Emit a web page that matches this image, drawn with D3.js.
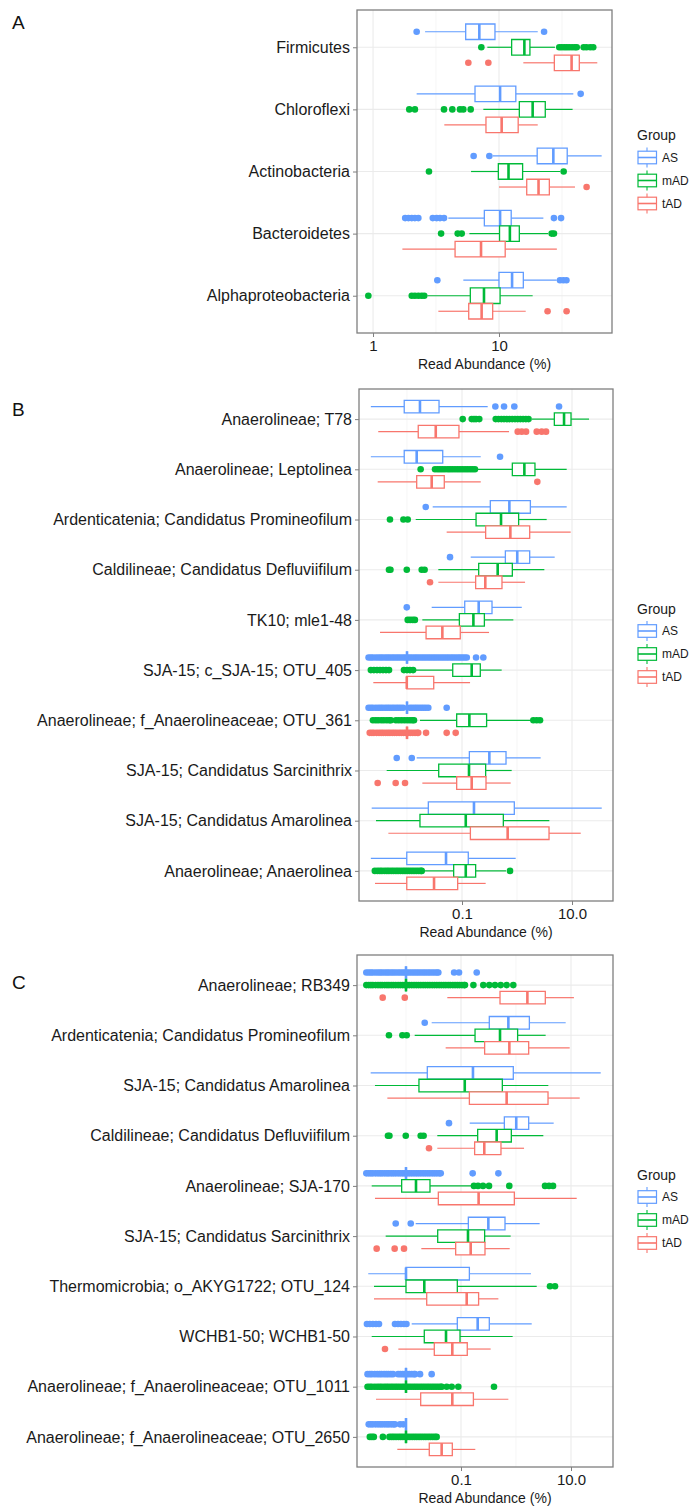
<!DOCTYPE html>
<html>
<head>
<meta charset="utf-8">
<script src="https://cdn.jsdelivr.net/npm/d3@7"></script>
<style>
  body { margin: 0; background: #fff; }
  text { font-family: "Liberation Sans", Arial, sans-serif; }
</style>
</head>
<body>
<svg id="fig" width="698" height="1511"></svg>
<script>
// Groups and colours (ggplot default hue palette)
const groups = ["AS", "mAD", "tAD"];
const groupColors = ["#619CFF", "#00BA38", "#F8766D"];

// ---------- Panel A ----------
const catsA = ["Firmicutes", "Chloroflexi", "Actinobacteria", "Bacteroidetes", "Alphaproteobacteria"];
// box stats: [lower whisker, Q1, median, Q3, upper whisker]
const boxA_AS = [
  [2.59, 5.44, 6.98, 9.29, 20.3],
  [2.22, 6.45, 10.2, 13.6, 38.9],
  [8.91, 20.1, 27.0, 34.8, 65.3],
  [3.96, 7.65, 10.2, 12.5, 22.5],
  [5.21, 10.0, 12.7, 15.6, 28.7]
];
const outA_AS = [
  [2.22, 22.8],
  [44.5],
  [6.29, 8.38],
  [1.80, 1.91, 2.03, 2.15, 2.29, 2.98, 3.20, 3.40, 3.66, 27.3, 31.1],
  [3.24, 30.5, 32.4, 34.3]
];
const boxA_mAD = [
  [8.08, 12.6, 15.9, 17.6, 27.8],
  [7.51, 14.5, 18.5, 23.3, 38.4],
  [6.0, 9.88, 11.9, 15.4, 30.5],
  [5.82, 10.1, 12.2, 14.5, 24.5],
  [2.7, 5.92, 7.6, 10.2, 18.5]
];
const outA_mAD = [
  [7.24, 30.1, 31.5, 33.0, 34.5, 36.1, 38.0, 40.0, 41.4, 47.0, 49.5, 53.0, 56.0],
  [1.94, 2.15, 3.66, 4.26, 4.90, 5.21, 5.96],
  [2.78, 32.6],
  [3.47, 4.70, 5.06, 26.2, 27.3],
  [0.918, 2.03, 2.15, 2.29, 2.43, 2.55]
];
const boxA_tAD = [
  [15.6, 27.5, 37.7, 43.4, 60.3],
  [3.68, 7.88, 10.5, 14.2, 20.3],
  [10.0, 16.6, 20.6, 25.1, 40.1],
  [1.71, 4.48, 7.2, 11.2, 28.8],
  [3.30, 5.75, 7.28, 8.91, 16.3]
];
const outA_tAD = [[5.71, 8.23], [], [49.6], [], [24.3, 34.4]];

// ---------- Panel B ----------
const catsB = [
  "Anaerolineae; T78",
  "Anaerolineae; Leptolinea",
  "Ardenticatenia; Candidatus Promineofilum",
  "Caldilineae; Candidatus Defluviifilum",
  "TK10; mle1-48",
  "SJA-15; c_SJA-15; OTU_405",
  "Anaerolineae; f_Anaerolineaceae; OTU_361",
  "SJA-15; Candidatus Sarcinithrix",
  "SJA-15; Candidatus Amarolinea",
  "Anaerolineae; Anaerolinea"
];
const boxB_AS = [
  [0.0022, 0.0089, 0.0172, 0.0382, 0.293],
  [0.0022, 0.0089, 0.0150, 0.0446, 0.219],
  [0.0293, 0.327, 0.726, 1.75, 8.0],
  [0.144, 0.614, 1.01, 1.70, 4.84],
  [0.0281, 0.112, 0.201, 0.351, 1.22],
  [0.01, 0.01, 0.01, 0.01, 0.01],
  [0.01, 0.01, 0.01, 0.01, 0.01],
  [0.015, 0.136, 0.314, 0.631, 2.69],
  [0.00228, 0.0244, 0.165, 0.893, 34.7],
  [0.0022, 0.0099, 0.0512, 0.130, 0.946]
];
const outB_AS = [
  [0.404, 0.581, 0.893, 5.81],
  [0.491],
  [0.0219],
  [0.0605],
  [0.0099],
  [0.0020, 0.0022, 0.0024, 0.0027, 0.003, 0.0033, 0.0036, 0.004, 0.0044, 0.0048, 0.0053, 0.0058, 0.0064, 0.007,
   0.0077, 0.0085, 0.0093, 0.0103, 0.0113, 0.0124, 0.0137, 0.015, 0.0165, 0.0182, 0.02, 0.022, 0.0242, 0.0266,
   0.0293, 0.0322, 0.0354, 0.039, 0.0429, 0.0472, 0.052, 0.057, 0.063, 0.069, 0.076, 0.084, 0.092, 0.101, 0.111,
   0.122, 0.18, 0.244],
  [0.0020, 0.0022, 0.0024, 0.0027, 0.003, 0.0033, 0.0036, 0.004, 0.0044, 0.0048, 0.0053, 0.0058, 0.0064, 0.007,
   0.0077, 0.0085, 0.0113, 0.0124, 0.0137, 0.015, 0.0165, 0.0182, 0.02, 0.022, 0.0244, 0.0526],
  [0.0065, 0.0122],
  [],
  []
];
const boxB_mAD = [
  [1.85, 4.77, 7.16, 9.59, 20.4],
  [0.19, 0.822, 1.36, 2.12, 8.0],
  [0.0144, 0.18, 0.512, 1.07, 3.46],
  [0.0371, 0.201, 0.445, 0.822, 3.14],
  [0.019, 0.0895, 0.161, 0.255, 0.857],
  [0.0136, 0.0678, 0.150, 0.215, 0.526],
  [0.0172, 0.080, 0.136, 0.28, 1.85],
  [0.00427, 0.0377, 0.134, 0.269, 0.80],
  [0.00273, 0.0172, 0.117, 0.564, 3.87],
  [0.0198, 0.0705, 0.117, 0.177, 0.63]
];
const outB_mAD = [
  [0.103, 0.150, 0.165, 0.180, 0.206, 0.41, 0.46, 0.52, 0.58, 0.65, 0.73, 0.82, 0.92, 1.03, 1.15, 1.29, 1.45, 1.62],
  [0.0177, 0.0323, 0.036, 0.0398, 0.044, 0.049, 0.055, 0.0605, 0.067, 0.0746, 0.083, 0.092, 0.102, 0.1135, 0.126,
   0.140, 0.155, 0.172],
  [0.0049, 0.0086, 0.0103],
  [0.0047, 0.0050, 0.0099, 0.0185, 0.0209],
  [0.0103, 0.0114, 0.0127, 0.0139],
  [0.0022, 0.0025, 0.00285, 0.00323, 0.00366, 0.00415, 0.00471, 0.0088, 0.01, 0.0113, 0.0129],
  [0.0024, 0.0027, 0.003, 0.0034, 0.0038, 0.0043, 0.0048, 0.0051, 0.0063, 0.0071, 0.008, 0.009, 0.0101, 0.0113,
   0.0125, 0.0134, 1.98, 2.28, 2.62],
  [],
  [],
  [0.0026, 0.0029, 0.0032, 0.0035, 0.0039, 0.0043, 0.0047, 0.0052, 0.0057, 0.0063, 0.0069, 0.0076, 0.0084, 0.0092,
   0.0101, 0.0111, 0.0122, 0.0134, 0.0148, 0.0163, 0.0179, 0.0185, 0.746]
];
const boxB_tAD = [
  [0.0030, 0.016, 0.0333, 0.088, 0.716],
  [0.00293, 0.015, 0.0281, 0.0476, 0.219],
  [0.0526, 0.269, 0.757, 1.70, 9.46],
  [0.0371, 0.177, 0.265, 0.533, 1.40],
  [0.00323, 0.0222, 0.0439, 0.093, 0.31],
  [0.00244, 0.0099, 0.0099, 0.0306, 0.14],
  [0.01, 0.01, 0.01, 0.01, 0.01],
  [0.019, 0.080, 0.150, 0.273, 0.767],
  [0.00458, 0.142, 0.676, 3.82, 14.4],
  [0.00262, 0.0099, 0.031, 0.0834, 0.269]
];
const outB_tAD = [
  [1.03, 1.22, 1.46, 2.28, 2.81, 3.37],
  [2.34],
  [],
  [0.0262],
  [],
  [],
  [0.0021, 0.0023, 0.0025, 0.0028, 0.0031, 0.0034, 0.0037, 0.0041, 0.0045, 0.0049, 0.0054, 0.0059, 0.0065, 0.0072,
   0.0079, 0.0087, 0.0095, 0.0105, 0.0115, 0.0127, 0.014, 0.0154, 0.016, 0.0222, 0.0526, 0.0767],
  [0.00293, 0.00622, 0.0092],
  [],
  []
];

// ---------- Panel C ----------
const catsC = [
  "Anaerolineae; RB349",
  "Ardenticatenia; Candidatus Promineofilum",
  "SJA-15; Candidatus Amarolinea",
  "Caldilineae; Candidatus Defluviifilum",
  "Anaerolineae; SJA-170",
  "SJA-15; Candidatus Sarcinithrix",
  "Thermomicrobia; o_AKYG1722; OTU_124",
  "WCHB1-50; WCHB1-50",
  "Anaerolineae; f_Anaerolineaceae; OTU_1011",
  "Anaerolineae; f_Anaerolineaceae; OTU_2650"
];
const boxC_AS = [
  [0.01, 0.01, 0.01, 0.01, 0.01],
  [0.0293, 0.327, 0.726, 1.75, 8.0],
  [0.00228, 0.0244, 0.165, 0.893, 34.7],
  [0.144, 0.614, 1.01, 1.70, 4.84],
  [0.01, 0.01, 0.01, 0.01, 0.01],
  [0.015, 0.136, 0.314, 0.631, 2.69],
  [0.00206, 0.01, 0.01, 0.142, 1.87],
  [0.0127, 0.0857, 0.201, 0.327, 1.93],
  [0.01, 0.01, 0.01, 0.01, 0.01],
  [0.01, 0.01, 0.01, 0.01, 0.01]
];
const outC_AS = [
  [0.0019, 0.0021, 0.0023, 0.0025, 0.0028, 0.0031, 0.0034, 0.0037, 0.0041, 0.0045, 0.0049, 0.0054, 0.0059, 0.0065,
   0.0072, 0.0079, 0.0087, 0.0095, 0.0105, 0.0115, 0.0127, 0.014, 0.0154, 0.0169, 0.0186, 0.0205, 0.0225, 0.0248,
   0.0272, 0.03, 0.033, 0.0363, 0.0387, 0.075, 0.092, 0.193],
  [0.0219],
  [],
  [0.0605],
  [0.0019, 0.0021, 0.0023, 0.0025, 0.0028, 0.0031, 0.0034, 0.0037, 0.0041, 0.0045, 0.0049, 0.0054, 0.0059, 0.0065,
   0.0072, 0.0079, 0.0087, 0.0095, 0.0105, 0.0115, 0.0127, 0.014, 0.0154, 0.0169, 0.0186, 0.0205, 0.0225, 0.0248,
   0.0272, 0.03, 0.033, 0.0363, 0.04, 0.0428, 0.163, 0.478],
  [0.0065, 0.0122],
  [],
  [0.00195, 0.0022, 0.0025, 0.00285, 0.00323, 0.0063, 0.00716, 0.0081, 0.0092, 0.0102],
  [0.002, 0.0022, 0.0024, 0.0027, 0.003, 0.0033, 0.0036, 0.004, 0.0044, 0.0048, 0.0053, 0.0058, 0.0072, 0.0079,
   0.0087, 0.0095, 0.0105, 0.0115, 0.0127, 0.014, 0.0146, 0.018, 0.0293],
  [0.0021, 0.0023, 0.0025, 0.0028, 0.0031, 0.0034, 0.0037, 0.0041, 0.0045, 0.0049, 0.0054, 0.0059, 0.0063, 0.0078,
   0.0089]
];
const boxC_mAD = [
  [0.01, 0.01, 0.01, 0.01, 0.01],
  [0.0144, 0.18, 0.512, 1.07, 3.46],
  [0.00273, 0.0172, 0.117, 0.564, 3.87],
  [0.0371, 0.201, 0.445, 0.822, 3.14],
  [0.00238, 0.00834, 0.0152, 0.0273, 0.156],
  [0.00427, 0.0377, 0.134, 0.269, 0.80],
  [0.00262, 0.01, 0.0215, 0.0857, 2.38],
  [0.00238, 0.0215, 0.0534, 0.096, 0.869],
  [0.01, 0.01, 0.01, 0.01, 0.01],
  [0.01, 0.01, 0.01, 0.01, 0.01]
];
const outC_mAD = [
  [0.0019, 0.0021, 0.0023, 0.0025, 0.0028, 0.0031, 0.0034, 0.0037, 0.0041, 0.0045, 0.0049, 0.0054, 0.0059, 0.0065,
   0.0072, 0.0079, 0.0087, 0.0095, 0.0105, 0.0115, 0.0127, 0.014, 0.0154, 0.0169, 0.0186, 0.0205, 0.0225, 0.0248,
   0.0272, 0.03, 0.033, 0.0363, 0.04, 0.044, 0.0484, 0.053, 0.0585, 0.064, 0.071, 0.078, 0.086, 0.094, 0.104, 0.114,
   0.118, 0.168, 0.254, 0.327, 0.415, 0.527, 0.678, 0.893],
  [0.0049, 0.0086, 0.0103],
  [],
  [0.0047, 0.0050, 0.0099, 0.0185, 0.0209],
  [0.172, 0.204, 0.251, 0.323, 0.755, 3.37, 3.98, 4.71],
  [],
  [4.15, 5.12],
  [],
  [0.002, 0.0022, 0.0024, 0.0027, 0.003, 0.0033, 0.0036, 0.004, 0.0044, 0.0048, 0.0053, 0.0058, 0.0064, 0.007,
   0.0077, 0.0085, 0.0093, 0.0103, 0.0113, 0.0124, 0.0137, 0.015, 0.0165, 0.0182, 0.02, 0.022, 0.0242, 0.0266,
   0.0293, 0.0322, 0.0354, 0.039, 0.0429, 0.0446, 0.055, 0.0678, 0.0893, 0.398],
  [0.0022, 0.0024, 0.0026, 0.0038, 0.005, 0.0055, 0.006, 0.0066, 0.0073, 0.008, 0.0088, 0.0097, 0.0107, 0.0118,
   0.013, 0.0143, 0.0157, 0.0173, 0.019, 0.0209, 0.023, 0.0253, 0.0278, 0.0306, 0.0336, 0.0361]
];
const boxC_tAD = [
  [0.0564, 0.512, 1.61, 3.41, 11.3],
  [0.0526, 0.269, 0.757, 1.70, 9.46],
  [0.00458, 0.142, 0.676, 3.82, 14.4],
  [0.0371, 0.177, 0.265, 0.533, 1.40],
  [0.00273, 0.0387, 0.209, 0.933, 12.7],
  [0.019, 0.080, 0.150, 0.273, 0.767],
  [0.00262, 0.0238, 0.127, 0.209, 0.478],
  [0.00726, 0.0327, 0.0695, 0.130, 0.346],
  [0.00285, 0.0185, 0.0695, 0.168, 0.726],
  [0.00695, 0.0265, 0.0445, 0.0695, 0.182]
];
const outC_tAD = [[0.00377, 0.0095], [], [], [0.0262], [], [0.00293, 0.00622, 0.0092], [], [0.00415], [], []];

// axis ticks
const ticksA = [1, 10];
const minorA = [Math.sqrt(10), Math.sqrt(1000)];
const ticksBC = [0.1, 10];
const minorBC = [0.01, 1];

const svg = d3.select("#fig");
const borderColor = "#7f7f7f";
const gridColor = "#ebebeb";

function drawPanel(p) {
  const g = svg.append("g");
  const x = d3.scaleLog().domain(p.domain).range([p.left, p.right]);
  const y = d3.scalePoint().domain(p.cats).range([p.top, p.bottom]).padding(0.6);
  const bh = y.step() * 0.75 / 3;

  // grid
  g.selectAll("line.minor").data(p.minor).join("line")
    .attr("x1", d => x(d)).attr("x2", d => x(d))
    .attr("y1", p.top).attr("y2", p.bottom)
    .attr("stroke", "#f2f2f2").attr("stroke-width", 0.7);
  g.selectAll("line.major").data(p.ticks).join("line")
    .attr("x1", d => x(d)).attr("x2", d => x(d))
    .attr("y1", p.top).attr("y2", p.bottom)
    .attr("stroke", gridColor).attr("stroke-width", 1.1);
  g.selectAll("line.hgrid").data(p.cats).join("line")
    .attr("x1", p.left).attr("x2", p.right)
    .attr("y1", d => y(d)).attr("y2", d => y(d))
    .attr("stroke", gridColor).attr("stroke-width", 1.1);

  groups.forEach((grp, gi) => {
    const col = groupColors[gi];
    const off = (gi - 1) * bh;
    const rows = p.cats.map((c, i) => ({ cat: c, s: p.boxes[gi][i], o: p.outs[gi][i] }));
    const gg = g.append("g");
    rows.forEach(r => {
      const cy = y(r.cat) + off;
      // outliers
      gg.selectAll(null).data(r.o).join("circle")
        .attr("cx", d => x(d)).attr("cy", cy).attr("r", 3.3)
        .attr("fill", col);
      // whiskers
      gg.append("line").attr("x1", x(r.s[0])).attr("x2", x(r.s[1]))
        .attr("y1", cy).attr("y2", cy).attr("stroke", col).attr("stroke-width", 1.2);
      gg.append("line").attr("x1", x(r.s[3])).attr("x2", x(r.s[4]))
        .attr("y1", cy).attr("y2", cy).attr("stroke", col).attr("stroke-width", 1.2);
      // box (path so that a zero-width box still shows)
      const x1 = x(r.s[1]), x2 = x(r.s[3]);
      const y0 = cy - bh / 2, y1 = cy + bh / 2;
      gg.append("path")
        .attr("d", `M${x1},${y0}H${x2}V${y1}H${x1}Z`)
        .attr("fill", "#fff").attr("stroke", col).attr("stroke-width", 1.3);
      gg.append("line").attr("x1", x(r.s[2])).attr("x2", x(r.s[2]))
        .attr("y1", y0).attr("y2", y1).attr("stroke", col).attr("stroke-width", 2.6);
    });
  });

  // border
  g.append("rect").attr("x", p.left).attr("y", p.top)
    .attr("width", p.right - p.left).attr("height", p.bottom - p.top)
    .attr("fill", "none").attr("stroke", borderColor).attr("stroke-width", 1.3);

  // y axis
  const ya = g.append("g").attr("transform", `translate(${p.left},0)`)
    .call(d3.axisLeft(y).tickSize(4).tickPadding(3));
  ya.select(".domain").remove();
  ya.selectAll(".tick line").attr("stroke", borderColor);
  ya.selectAll(".tick text").attr("font-size", 16).attr("fill", "#1a1a1a")
    .attr("font-family", "Liberation Sans, Arial, sans-serif");

  // x axis
  const xa = g.append("g").attr("transform", `translate(0,${p.bottom})`)
    .call(d3.axisBottom(x).tickValues(p.ticks).tickFormat(p.fmt).tickSize(4).tickPadding(3));
  xa.select(".domain").remove();
  xa.selectAll(".tick line").attr("stroke", borderColor);
  xa.selectAll(".tick text").attr("font-size", 15).attr("fill", "#1a1a1a")
    .attr("font-family", "Liberation Sans, Arial, sans-serif");

  g.append("text").attr("x", (p.left + p.right) / 2).attr("y", p.bottom + 36)
    .attr("text-anchor", "middle").attr("font-size", 14).attr("fill", "#1a1a1a")
    .text("Read Abundance (%)");

  // panel letter
  g.append("text").attr("x", 12).attr("y", p.labelY)
    .attr("font-family", "Lato, 'Open Sans', sans-serif").attr("font-size", 19).attr("fill", "#111")
    .text(p.label);

  // legend
  const mid = (p.top + p.bottom) / 2;
  const lg = g.append("g").attr("transform", `translate(637,${mid})`);
  lg.append("text").attr("x", 0).attr("y", -36).attr("dy", "0.35em")
    .attr("font-size", 14).attr("fill", "#1a1a1a").text("Group");
  groups.forEach((grp, gi) => {
    const ky = -14 + gi * 23;
    const col = groupColors[gi];
    const k = lg.append("g").attr("transform", `translate(0,${ky})`);
    k.append("line").attr("x1", 10).attr("x2", 10).attr("y1", -10).attr("y2", 10)
      .attr("stroke", col).attr("stroke-width", 1.1);
    k.append("rect").attr("x", 1).attr("y", -6.3).attr("width", 18.5).attr("height", 12.6)
      .attr("fill", "#fff").attr("stroke", col).attr("stroke-width", 1.2);
    k.append("line").attr("x1", 1).attr("x2", 19.5).attr("y1", 0).attr("y2", 0)
      .attr("stroke", col).attr("stroke-width", 1.6);
    k.append("text").attr("x", 25).attr("y", 0).attr("dy", "0.35em")
      .attr("font-size", 12).attr("fill", "#1a1a1a").text(grp);
  });
}

drawPanel({
  label: "A", labelY: 29,
  cats: catsA, boxes: [boxA_AS, boxA_mAD, boxA_tAD], outs: [outA_AS, outA_mAD, outA_tAD],
  left: 357, right: 612, top: 10, bottom: 333,
  domain: [0.746, 78.9], ticks: ticksA, minor: minorA, fmt: d3.format("d")
});
drawPanel({
  label: "B", labelY: 416,
  cats: catsB, boxes: [boxB_AS, boxB_mAD, boxB_tAD], outs: [outB_AS, outB_mAD, outB_tAD],
  left: 359, right: 613, top: 389, bottom: 901,
  domain: [0.00134, 55.6], ticks: ticksBC, minor: minorBC, fmt: d3.format(".1f")
});
drawPanel({
  label: "C", labelY: 989,
  cats: catsC, boxes: [boxC_AS, boxC_mAD, boxC_tAD], outs: [outC_AS, outC_mAD, outC_tAD],
  left: 357, right: 613, top: 955, bottom: 1467,
  domain: [0.001286, 58.0], ticks: ticksBC, minor: minorBC, fmt: d3.format(".1f")
});
</script>
</body>
</html>
